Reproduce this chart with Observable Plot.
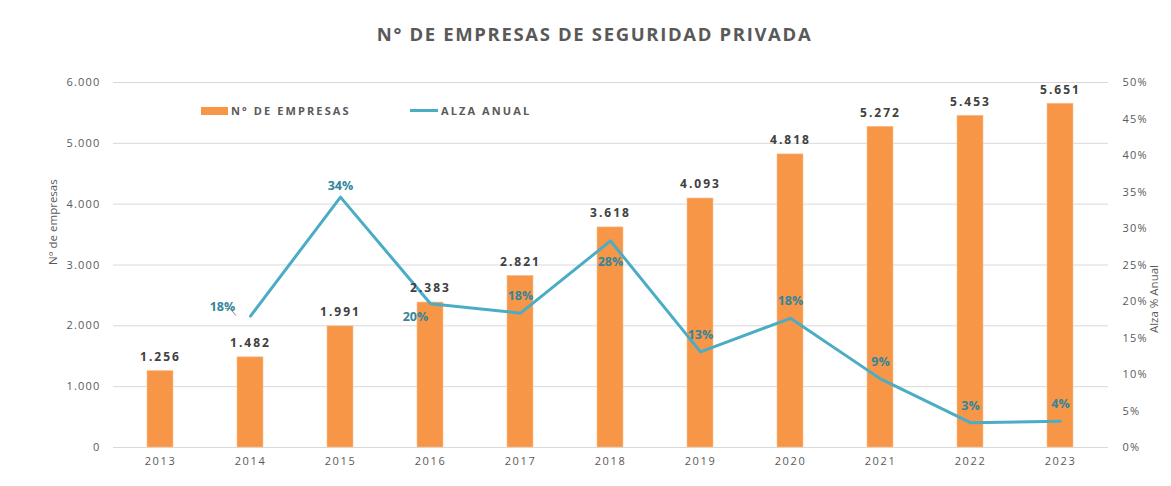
<!DOCTYPE html>
<html>
<head>
<meta charset="utf-8">
<script src="https://cdn.jsdelivr.net/npm/d3@7"></script>
<script src="https://cdn.jsdelivr.net/npm/@observablehq/plot@0.6"></script>
<style>
  html, body { margin: 0; padding: 0; background: #fff; }
  #wrap { position: relative; width: 1171px; height: 486px; font-family: "Open Sans", sans-serif; }
  #title { position: absolute; left: 9px; width: 1171px; top: 21px; text-align: center; font-size: 18.5px; font-weight: 700; color: #595959; letter-spacing: 1.65px; }
  .leg { position: absolute; top: 103px; font-size: 11px; font-weight: 700; color: #595959; letter-spacing: 2.1px; display: flex; align-items: center; }
  .sw { display: inline-block; margin-right: 3px; }
  #chart svg text { font-family: "Open Sans", sans-serif; }
  g[aria-label="x-axis tick label"] text { letter-spacing: 1.6px; }
  g[aria-label="y-axis tick label"] text { letter-spacing: 1.2px; }
  g.barlbl text { letter-spacing: 2px; }
</style>
</head>
<body>
<div id="wrap">
  <div id="chart"></div>
  <div id="title">N° DE EMPRESAS DE SEGURIDAD PRIVADA</div>
  <div class="leg" style="left:201px"><span class="sw" style="width:27px;height:8px;background:#F79646"></span>N° DE EMPRESAS</div>
  <div class="leg" style="left:410px"><span class="sw" style="width:28px;height:3px;background:#4BACC6"></span>ALZA ANUAL</div>
</div>
<script>
const years = ["2013","2014","2015","2016","2017","2018","2019","2020","2021","2022","2023"];
const empresas = [1256,1482,1991,2383,2821,3618,4093,4818,5272,5453,5651];
const alza = [null,18.0,34.3,19.7,18.4,28.3,13.1,17.7,9.4,3.4,3.6];
const alzaLabels = ["","18%","34%","20%","18%","28%","13%","18%","9%","3%","4%"];
const leftTicks = [0,1000,2000,3000,4000,5000,6000];
const rightTicks = [0,5,10,15,20,25,30,35,40,45,50];

const SCALE = 6000 / 50; // percent -> left-axis units
const loc = d3.formatLocale({decimal: ",", thousands: ".", grouping: [3]});
const fmt = loc.format(",d");

const bars = years.map((y, i) => ({year: y, value: empresas[i]}));
const pts = years.map((y, i) => ({year: y, pct: alza[i], label: alzaLabels[i], i}))
  .filter(d => d.pct != null);

// label placement (dx, dy) per year index
const off = {1: [-28, -9], 2: [0, -11], 3: [-15, 13], 5: [0, 21]};
const labelMarks = [];
const groups = {};
pts.forEach(d => {
  const o = off[d.i] || [0, -17];
  const k = o.join(",");
  (groups[k] = groups[k] || {o, data: []}).data.push(d);
});
Object.values(groups).forEach(g => {
  labelMarks.push(Plot.text(g.data, {
    x: "year", y: d => d.pct * SCALE, text: "label",
    dx: g.o[0], dy: g.o[1], fill: "#31859C", fontWeight: 700, fontSize: 12.5
  }));
});

// leader line for the first label, drawn relative to the scaled point
const leader = Plot.dot([pts[0]], {
  x: "year", y: d => d.pct * SCALE, r: 0,
  render: (index, scales, values, dims, ctx, next) => {
    const g = d3.create("svg:g");
    for (const i of index) {
      const px = values.x[i], py = values.y[i];
      g.append("path")
        .attr("d", `M${px - 12},${py - 7}H${px - 7}L${px - 1},${py}`)
        .attr("fill", "none").attr("stroke", "#8C8C8C").attr("stroke-width", 1);
    }
    return g.node();
  }
});

const chart = Plot.plot({
  width: 1171, height: 486,
  marginTop: 82, marginBottom: 39, marginLeft: 113, marginRight: 63,
  style: {fontFamily: "Open Sans, sans-serif", overflow: "visible", background: "transparent"},
  x: {domain: years, paddingInner: 0.71, paddingOuter: 0.355, align: 0.5, label: null},
  y: {domain: [0, 6000], label: null},
  marks: [
    Plot.gridY(leftTicks, {stroke: "#D9D9D9", strokeOpacity: 1, strokeWidth: 1}),
    Plot.barY(bars, {x: "year", y: "value", fill: "#F79646", stroke: "#FAC090", strokeWidth: 0.6}),
    Plot.line(pts, {x: "year", y: d => d.pct * SCALE, stroke: "#4BACC6", strokeWidth: 3, strokeLinejoin: "round"}),
    leader,
    Plot.text(bars, {x: "year", y: "value", text: d => fmt(d.value), dy: -14, fill: "#404040", fontWeight: 700, fontSize: 12, className: "barlbl"}),
    ...labelMarks,
    Plot.axisX({tickSize: 0, tickPadding: 10, fill: "#595959", fontSize: 11, label: null}),
    Plot.axisY({ticks: leftTicks, tickFormat: fmt, tickSize: 0, tickPadding: 13, fill: "#595959", fontSize: 11, label: null}),
    Plot.axisY({anchor: "right", ticks: rightTicks.map(t => t * SCALE), tickFormat: d => Math.round(d / SCALE) + "%", tickSize: 0, tickPadding: 14, fill: "#595959", fontSize: 11, label: null}),
    Plot.text(["N° de empresas"], {frameAnchor: "left", dx: -60, rotate: -90, fill: "#595959", fontSize: 11.5}),
    Plot.text(["Alza % Anual"], {frameAnchor: "right", dx: 46, rotate: -90, fill: "#595959", fontSize: 11.5})
  ]
});
document.getElementById("chart").appendChild(chart);
</script>
</body>
</html>
